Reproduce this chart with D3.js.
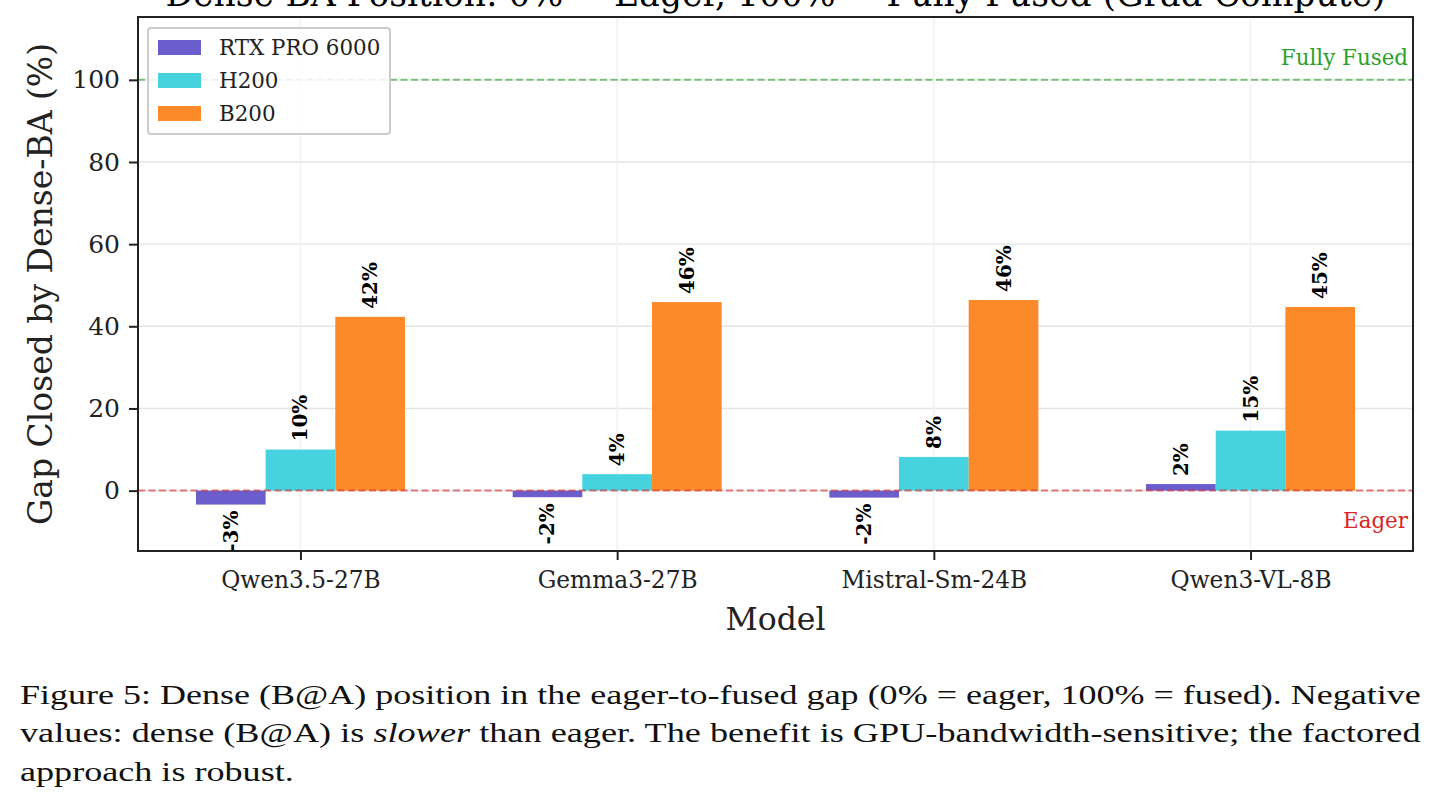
<!DOCTYPE html>
<html>
<head>
<meta charset="utf-8">
<script src="https://cdn.jsdelivr.net/npm/d3@7"></script>
<style>
  body { margin: 0; background: #fff; }
  text { font-family: 'DejaVu Serif', serif; }
</style>
</head>
<body>
<script>
'use strict'

// data
const models = ['Qwen3.5-27B', 'Gemma3-27B', 'Mistral-Sm-24B', 'Qwen3-VL-8B']
const gpus = ['RTX PRO 6000', 'H200', 'B200']
const rtxPro = [-3.4, -1.6, -1.7, 1.6]
const h200 = [10.0, 4.0, 8.2, 14.6]
const b200 = [42.3, 45.9, 46.4, 44.7]
const yTicks = [0, 20, 40, 60, 80, 100]
const refLines = [
  { value: 100, label: 'Fully Fused', color: '#2ca02c' },
  { value: 0, label: 'Eager', color: '#d62728' }
]
const title = 'Dense-BA Position: 0% = Eager, 100% = Fully Fused (Grad Compute)'

const PURPLE = '#6b5ecc'
const CYAN   = '#47d2df'
const ORANGE = '#fd8a28'
const INK    = '#222'

const seriesValues = [rtxPro, h200, b200]
const seriesColors = [PURPLE, CYAN, ORANGE]

const W = 1438, H = 807
const plot = { left: 138, right: 1413, top: 17, bottom: 551 }
const barW = 0.22

const svg = d3.select('body')
  .append('svg')
  .attr('width', W)
  .attr('height', H)
  .style('background-color', '#fff')

const x = d3.scaleLinear()
  .domain([-0.513, models.length - 1 + 0.513])
  .range([plot.left, plot.right])

const y = d3.scaleLinear()
  .domain([-14.7, 115.3])
  .range([plot.bottom, plot.top])

// title, mostly clipped off the top edge like the source
svg.append('text')
  .attr('x', (plot.left + plot.right) / 2)
  .attr('y', 6)
  .attr('text-anchor', 'middle')
  .style('font-size', '34.5px')
  .text(title)

// grid
const grid = svg.append('g')
grid.selectAll('line.h')
  .data(yTicks)
  .join('line')
  .attr('x1', plot.left).attr('x2', plot.right)
  .attr('y1', d => y(d)).attr('y2', d => y(d))
  .attr('stroke', '#e4e4e4')
  .attr('stroke-width', 1.4)
grid.selectAll('line.v')
  .data(models.map((m, i) => i))
  .join('line')
  .attr('x1', d => x(d)).attr('x2', d => x(d))
  .attr('y1', plot.top).attr('y2', plot.bottom)
  .attr('stroke', '#f0f0f0')
  .attr('stroke-width', 1.4)

// bars
seriesValues.forEach((vals, s) => {
  const off = (s - 1) * barW
  svg.append('g')
    .selectAll('rect')
    .data(vals)
    .join('rect')
    .attr('x', (d, i) => x(i + off - barW / 2))
    .attr('width', x(barW) - x(0))
    .attr('y', d => y(Math.max(d, 0)))
    .attr('height', d => Math.abs(y(d) - y(0)))
    .attr('fill', seriesColors[s])
})

// reference lines
refLines.forEach(r => {
  svg.append('line')
    .attr('x1', plot.left).attr('x2', plot.right)
    .attr('y1', y(r.value)).attr('y2', y(r.value))
    .attr('stroke', r.color)
    .attr('stroke-opacity', 0.6)
    .attr('stroke-width', 2)
    .attr('stroke-dasharray', '7,3.5')
})
svg.append('text')
  .attr('x', plot.right - 5)
  .attr('y', y(100) - 15)
  .attr('text-anchor', 'end')
  .attr('fill', refLines[0].color)
  .style('font-size', '21.4px')
  .text(refLines[0].label)
svg.append('text')
  .attr('x', plot.right - 5)
  .attr('y', y(0) + 37)
  .attr('text-anchor', 'end')
  .attr('fill', refLines[1].color)
  .style('font-size', '21.4px')
  .text(refLines[1].label)

// value labels
const fmt = v => d3.format('.0f')(v).replace('\u2212', '-') + '%'
seriesValues.forEach((vals, s) => {
  const off = (s - 1) * barW
  svg.append('g')
    .selectAll('text')
    .data(vals)
    .join('text')
    .attr('transform', (d, i) => {
      const ty = d >= 0 ? y(d) - 8 : y(d) + 6
      return `translate(${ x(i + off) }, ${ ty }) rotate(-90)`
    })
    .attr('text-anchor', d => d >= 0 ? 'start' : 'end')
    .attr('dominant-baseline', 'central')
    .style('font-size', '20px')
    .style('font-weight', 'bold')
    .text(fmt)
})

// axes
const yAxis = svg.append('g')
  .attr('transform', `translate(${ plot.left }, 0)`)
  .call(d3.axisLeft(y).tickValues(yTicks).tickSize(9).tickPadding(9))
const xAxis = svg.append('g')
  .attr('transform', `translate(0, ${ plot.bottom })`)
  .call(d3.axisBottom(x).tickValues(models.map((m, i) => i))
    .tickFormat(i => models[i]).tickSize(9).tickPadding(11))
;[yAxis, xAxis].forEach(a => {
  a.select('.domain').remove()
  a.selectAll('.tick line').attr('stroke', INK).attr('stroke-width', 2)
  a.selectAll('.tick text').attr('fill', INK)
    .style('font-family', "'DejaVu Serif', serif")
})
yAxis.selectAll('.tick text').style('font-size', '25px')
xAxis.selectAll('.tick text').style('font-size', '23.3px')

// frame
svg.append('rect')
  .attr('x', plot.left).attr('y', plot.top)
  .attr('width', plot.right - plot.left)
  .attr('height', plot.bottom - plot.top)
  .attr('fill', 'none')
  .attr('stroke', INK)
  .attr('stroke-width', 2)

// axis titles
svg.append('text')
  .attr('transform', `translate(52, ${ (plot.top + plot.bottom) / 2 }) rotate(-90)`)
  .attr('text-anchor', 'middle')
  .attr('fill', INK)
  .style('font-size', '33px')
  .text('Gap Closed by Dense-BA (%)')
svg.append('text')
  .attr('x', (plot.left + plot.right) / 2)
  .attr('y', 630)
  .attr('text-anchor', 'middle')
  .attr('fill', INK)
  .style('font-size', '31.5px')
  .text('Model')

// legend
const legend = svg.append('g')
legend.append('rect')
  .attr('x', 148).attr('y', 28)
  .attr('width', 242).attr('height', 106)
  .attr('rx', 3)
  .attr('fill', '#fff')
  .attr('fill-opacity', 0.85)
  .attr('stroke', '#cccccc')
  .attr('stroke-width', 2)
gpus.forEach((name, i) => {
  legend.append('rect')
    .attr('x', 158).attr('y', 40 + i * 33)
    .attr('width', 43).attr('height', 15)
    .attr('fill', seriesColors[i])
  legend.append('text')
    .attr('x', 219).attr('y', 55 + i * 33)
    .attr('fill', INK)
    .style('font-size', '21.4px')
    .text(name)
})

// caption, justified like the source paper
const captionLines = [
  [{ t: 'Figure 5: Dense (B@A) position in the eager-to-fused gap (0% = eager, 100% = fused). Negative' }],
  [{ t: 'values: dense (B@A) is ' }, { t: 'slower', it: true },
   { t: ' than eager. The benefit is GPU-bandwidth-sensitive; the factored' }],
  [{ t: 'approach is robust.' }]
]
const capLeft = 20, capRight = 1421
const capNodes = captionLines.map((parts, i) => {
  const t = svg.append('text')
    .attr('y', 704 + i * 38.5)
    .attr('fill', '#111')
    .style('font-family', "'Liberation Serif', serif")
    .style('font-size', '27px')
  parts.forEach(p => {
    t.append('tspan')
      .style('font-style', p.it ? 'italic' : 'normal')
      .text(p.t)
  })
  return t
})
// stretch glyphs horizontally so full lines reach the right margin
const scales = capNodes.slice(0, 2)
  .map(t => (capRight - capLeft) / t.node().getComputedTextLength())
const meanScale = d3.mean(scales)
capNodes.forEach((t, i) => {
  const sx = i < scales.length ? scales[i] : meanScale
  t.attr('x', capLeft / sx)
    .attr('transform', `scale(${ sx }, 1)`)
})
</script>
</body>
</html>
